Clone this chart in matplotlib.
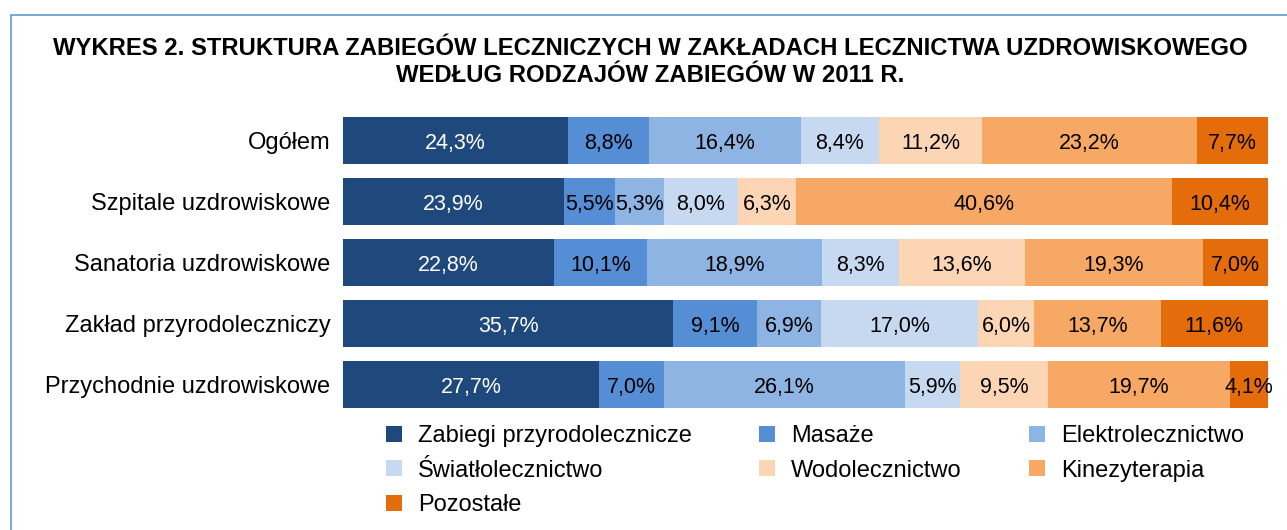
import matplotlib.pyplot as plt
import numpy as np
from matplotlib.patches import Rectangle

plt.rcParams['font.family'] = ['Liberation Sans', 'DejaVu Sans']

# data
facilities = ['Ogółem', 'Szpitale uzdrowiskowe', 'Sanatoria uzdrowiskowe',
              'Zakład przyrodoleczniczy', 'Przychodnie uzdrowiskowe']
treatments = ['Zabiegi przyrodolecznicze', 'Masaże', 'Elektrolecznictwo',
              'Światłolecznictwo', 'Wodolecznictwo', 'Kinezyterapia', 'Pozostałe']
zabiegi_przyrod = [24.3, 23.9, 22.8, 35.7, 27.7]
masaze = [8.8, 5.5, 10.1, 9.1, 7.0]
elektro = [16.4, 5.3, 18.9, 6.9, 26.1]
swiatlo = [8.4, 8.0, 8.3, 17.0, 5.9]
wodo = [11.2, 6.3, 13.6, 6.0, 9.5]
kinezy = [23.2, 40.6, 19.3, 13.7, 19.7]
pozostale = [7.7, 10.4, 7.0, 11.6, 4.1]

series = [zabiegi_przyrod, masaze, elektro, swiatlo, wodo, kinezy, pozostale]
colors = ['#1F497D', '#558ED5', '#8EB4E3', '#C6D9F1', '#FCD5B5', '#F7A864', '#E46C0A']
text_colors = ['white'] + ['black'] * 6

fig = plt.figure(figsize=(12.87, 5.30), dpi=100)
ax = fig.add_axes([343 / 1287, 1 - 415 / 530, 925 / 1287, 305 / 530])

y = np.arange(len(facilities))
left = np.zeros(len(facilities))
handles = []
for vals, col, tc, name in zip(series, colors, text_colors, treatments):
    vals = np.array(vals)
    bars = ax.barh(y, vals, left=left, height=0.755, color=col, label=name)
    handles.append(bars)
    for yi, (l, v) in enumerate(zip(left, vals)):
        ax.text(l + v / 2, yi + 0.05, f'{v:.1f}%'.replace('.', ','), ha='center', va='center',
                fontsize=15.5, color=tc)
    left += vals

ax.set_xlim(0, 100)
ax.set_ylim(len(facilities) - 0.5, -0.5)
ax.set_yticks(y)
ax.set_yticklabels(facilities, fontsize=17)
ax.tick_params(axis='y', length=0, pad=9)
ax.set_xticks([])
for s in ax.spines.values():
    s.set_visible(False)

fig.text(0.505, 1 - 37 / 530,
         'WYKRES 2. STRUKTURA ZABIEGÓW LECZNICZYCH W ZAKŁADACH LECZNICTWA UZDROWISKOWEGO\n'
         'WEDŁUG RODZAJÓW ZABIEGÓW W 2011 R.',
         ha='center', va='top', fontsize=17.2, fontweight='bold', linespacing=1.22)

# legend, filled row by row
order = [0, 3, 6, 1, 4, 2, 5]
fig.legend([handles[i] for i in order], [treatments[i] for i in order],
           ncol=3, loc='upper left', bbox_to_anchor=(386 / 1287, 1 - 425 / 530),
           bbox_transform=fig.transFigure, frameon=False, fontsize=17,
           handlelength=0.68, handleheight=0.68, handletextpad=0.68,
           columnspacing=2.85, labelspacing=0.53, borderpad=0, borderaxespad=0)

# outer frame (cut off on the right and bottom)
fig.add_artist(Rectangle((11 / 1287, -0.1), 1.2, 1 - 15 / 530 + 0.1,
                         transform=fig.transFigure, fill=False,
                         edgecolor='#5B9BD5', linewidth=1.2))

fig.savefig('out.png', dpi=100)
